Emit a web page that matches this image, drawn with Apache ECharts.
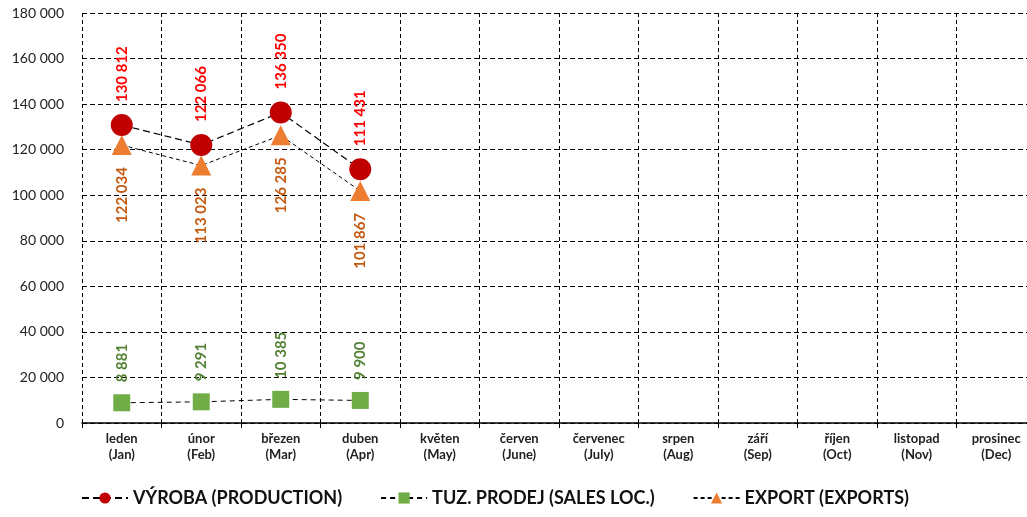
<!DOCTYPE html>
<html>
<head>
<meta charset="utf-8">
<script src="https://cdn.jsdelivr.net/npm/echarts@6/dist/echarts.min.js"></script>
<style>
    html, body { margin: 0; padding: 0; background: #fff; overflow: hidden; }
    #chart { width: 1040px; height: 517px; }
</style>
</head>
<body>
<div id="chart"></div>
<script>
var months = ['leden\n(Jan)', 'únor\n(Feb)', 'březen\n(Mar)', 'duben\n(Apr)', 'květen\n(May)', 'červen\n(June)',
    'červenec\n(July)', 'srpen\n(Aug)', 'září\n(Sep)', 'říjen\n(Oct)', 'listopad\n(Nov)', 'prosinec\n(Dec)'];
var vyroba = [130812, 122066, 136350, 111431];
var tuzProdej = [8881, 9291, 10385, 9900];
var exportData = [122034, 113023, 126285, 101867];
var seriesNames = ['VÝROBA (PRODUCTION)', 'TUZ. PRODEJ (SALES LOC.)', 'EXPORT (EXPORTS)'];

var fontFamily = 'Lato, "Open Sans", sans-serif';

// cislo s mezerou jako oddelovacem tisicu
function fmt(v) {
    return String(v).replace(/\B(?=(\d{3})+(?!\d))/g, '\u00a0');
}

function labelUp(color) {
    return {
        show: true, position: 'top', distance: 12, rotate: 90,
        align: 'left', verticalAlign: 'middle',
        color: color, fontWeight: 'bold', fontSize: 15, fontFamily: fontFamily,
        formatter: function (p) { return fmt(p.value); }
    };
}
function labelDown(color) {
    return {
        show: true, position: 'bottom', distance: 12, rotate: 90,
        align: 'right', verticalAlign: 'middle',
        color: color, fontWeight: 'bold', fontSize: 15, fontFamily: fontFamily,
        formatter: function (p) { return fmt(p.value); }
    };
}

var myChart = echarts.init(document.getElementById('chart'));
var option = {
    animation: false,
    textStyle: { fontFamily: fontFamily },
    grid: { left: 82, right: 4, top: 13, bottom: 94 },
    legend: {
        bottom: 5,
        left: 76,
        itemWidth: 46,
        itemHeight: 14,
        itemGap: 38,
        data: seriesNames,
        textStyle: { fontSize: 18, fontWeight: 'bold', color: '#111', fontFamily: fontFamily }
    },
    xAxis: {
        type: 'category',
        data: months,
        boundaryGap: true,
        axisLine: { lineStyle: { color: '#000', width: 1.5 } },
        axisTick: { show: true, interval: 0, length: 5, lineStyle: { color: '#000' } },
        splitLine: { show: true, interval: 0, lineStyle: { color: '#000', type: [4, 3], width: 1 } },
        axisLabel: {
            interval: 0, margin: 8, fontSize: 13, fontWeight: 'bold', color: '#222', lineHeight: 16,
            fontFamily: fontFamily
        }
    },
    yAxis: {
        type: 'value',
        min: 0,
        max: 180000,
        interval: 20000,
        axisLine: { show: false },
        axisTick: { show: false },
        splitLine: { lineStyle: { color: '#000', type: [5, 3], width: 1 } },
        axisLabel: {
            margin: 18, fontSize: 14, color: '#222', fontFamily: fontFamily,
            formatter: function (v) { return fmt(v); }
        }
    },
    series: [
        {
            name: seriesNames[0],
            type: 'line',
            data: vyroba,
            symbol: 'circle',
            symbolSize: 22,
            z: 4,
            itemStyle: { color: '#C00000' },
            lineStyle: { color: '#000', width: 1.2, type: [7, 4] },
            label: labelUp('#FF0000')
        },
        {
            name: seriesNames[1],
            type: 'line',
            data: tuzProdej,
            symbol: 'rect',
            symbolSize: 17,
            z: 3,
            itemStyle: { color: '#70AD47' },
            lineStyle: { color: '#000', width: 1, type: [5, 4] },
            label: labelUp('#548235')
        },
        {
            name: seriesNames[2],
            type: 'line',
            data: exportData,
            symbol: 'triangle',
            symbolSize: 20,
            z: 3,
            itemStyle: { color: '#ED7D31' },
            lineStyle: { color: '#000', width: 1, type: [4, 3] },
            label: labelDown('#C55A11')
        }
    ]
};
myChart.setOption(option);
</script>
</body>
</html>
